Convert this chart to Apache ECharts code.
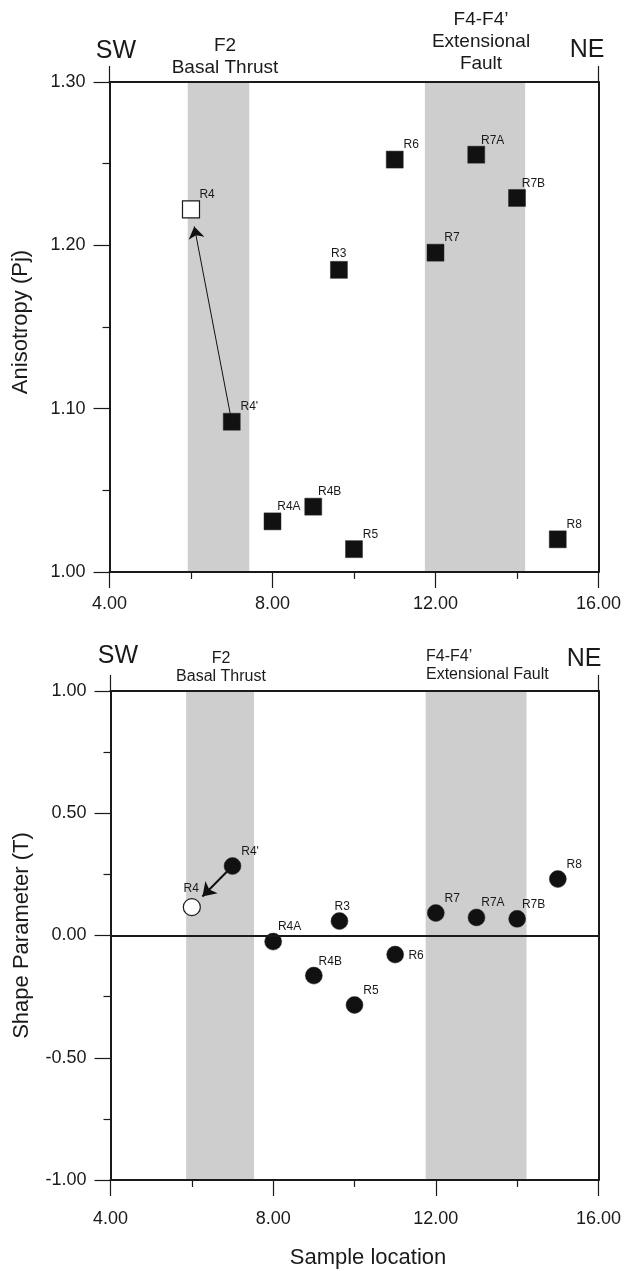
<!DOCTYPE html>
<html>
<head>
<meta charset="utf-8">
<script src="https://cdn.jsdelivr.net/npm/echarts@6/dist/echarts.min.js"></script>
<style>
  html, body { margin: 0; padding: 0; background: #fff; }
  #chart { width: 630px; height: 1271px; }
</style>
</head>
<body>
<div id="chart"></div>
<script>
// sample names along the SW-NE profile
var names = ['R4', "R4'", 'R4A', 'R4B', 'R3', 'R5', 'R6', 'R7', 'R7A', 'R7B', 'R8'];
var sampleLoc = [6.0, 7.0, 8.0, 9.0, 9.63, 10.0, 11.0, 12.0, 13.0, 14.0, 15.0];
// anisotropy degree Pj
var pjValues = [1.222, 1.092, 1.031, 1.040, 1.185, 1.014, 1.2525, 1.1955, 1.2555, 1.229, 1.020];
// shape parameter T
var tValues = [0.116, 0.284, -0.025, -0.164, 0.059, -0.284, -0.078, 0.092, 0.074, 0.068, 0.231];
// restored (open) sample and the arrow R4' -> R4
var openSamples = ['R4'];
var arrowFrom = "R4'";
var arrowTo = 'R4';
// tick values
var xTicks = [4, 8, 12, 16];
var pjTicks = [1.0, 1.1, 1.2, 1.3];
var tTicks = [-1.0, -0.5, 0.0, 0.5, 1.0];
// shaded fault zones (sample location)
var pjZones = [[5.92, 7.43], [11.74, 14.2]];
var tZones = [[5.86, 7.53], [11.75, 14.23]];

var FONT = '"Liberation Sans", Arial, Helvetica, sans-serif';
var INK = '#1a1a1a';

// label placement: [dx, dy, align] from the marker centre
var pjPlaces = {
  _default: [9, -14.5, 'left'],
  'R4A': [5, -14.5, 'left'], 'R4B': [5, -14.5, 'left'],
  'R7A': [5, -14, 'left'], 'R7B': [5, -14.5, 'left'],
  'R3': [0, -15.5, 'center']
};
var tPlaces = {
  _default: [9, -14, 'left'],
  'R4A': [5, -15, 'left'], 'R4B': [5, -14, 'left'],
  'R7A': [5, -14, 'left'], 'R7B': [5, -14, 'left'],
  'R3': [3, -14.5, 'center'], 'R4': [0, -18, 'center'],
  'R6': [13.5, 1, 'left']
};

var SIZE = 17;

function buildPoints(yVals, places) {
  return names.map(function(n, i) {
    var open = openSamples.indexOf(n) >= 0;
    var p = places[n] || places._default;
    return {
      name: n,
      value: [sampleLoc[i], yVals[i]],
      itemStyle: open
        ? { color: '#fff', borderColor: INK, borderWidth: 1.2, opacity: 1 }
        : { color: '#111', borderColor: '#2a2a2a', borderWidth: 0.5, opacity: 1 },
      label: {
        show: true,
        formatter: n,
        position: [SIZE / 2 + p[0], SIZE / 2 + p[1]],
        align: p[2],
        verticalAlign: 'middle',
        fontSize: 12,
        fontFamily: FONT,
        color: INK
      }
    };
  });
}

function arrowCoords(yVals, frac) {
  var a = names.indexOf(arrowFrom), b = names.indexOf(arrowTo);
  var x0 = sampleLoc[a], y0 = yVals[a], x1 = sampleLoc[b], y1 = yVals[b];
  return [[x0, y0], [x1 + (x0 - x1) * frac, y1 + (y0 - y1) * frac]];
}

function fmt(v) { return v.toFixed(2); }

function bottomAxis(grid, vals, margin, extra) {
  var ax = {
    gridIndex: grid, type: 'value', position: 'bottom', z: 10,
    min: vals[0], max: vals[vals.length - 1], interval: vals[1] - vals[0],
    axisLine: { show: true, onZero: false, lineStyle: { color: INK, width: 2 } },
    axisTick: { show: true, length: 16, lineStyle: { color: INK, width: 1.2 } },
    minorTick: { show: true, splitNumber: 2, length: 7, lineStyle: { color: INK, width: 1.2 } },
    axisLabel: { margin: margin, fontSize: 18, fontFamily: FONT, color: INK, formatter: fmt, showMinLabel: true, showMaxLabel: true },
    splitLine: { show: false }, minorSplitLine: { show: false }
  };
  for (var k in extra) ax[k] = extra[k];
  return ax;
}

function topAxis(grid, vals) {
  return {
    gridIndex: grid, type: 'value', position: 'top', z: 10,
    min: vals[0], max: vals[vals.length - 1], interval: vals[vals.length - 1] - vals[0],
    axisLine: { show: true, onZero: false, lineStyle: { color: INK, width: 2 } },
    axisTick: { show: true, length: 16, lineStyle: { color: INK, width: 1.2 } },
    axisLabel: { show: false }, splitLine: { show: false }
  };
}

function leftAxis(grid, vals, name, pad) {
  return {
    gridIndex: grid, type: 'value', position: 'left', z: 10,
    min: vals[0], max: vals[vals.length - 1], interval: Math.round((vals[1] - vals[0]) * 100) / 100,
    name: name, nameLocation: 'middle', nameGap: 78,
    nameTextStyle: { fontSize: 22, fontFamily: FONT, color: INK, padding: pad },
    axisLine: { show: true, onZero: false, lineStyle: { color: INK, width: 2 } },
    axisTick: { show: true, length: 16, lineStyle: { color: INK, width: 1.2 } },
    minorTick: { show: true, splitNumber: 2, length: 7, lineStyle: { color: INK, width: 1.2 } },
    axisLabel: { margin: 24, fontSize: 18, fontFamily: FONT, color: INK, formatter: fmt, showMinLabel: true, showMaxLabel: true },
    splitLine: { show: false }, minorSplitLine: { show: false }
  };
}

function rightAxis(grid, vals) {
  return {
    gridIndex: grid, type: 'value', position: 'right', z: 10,
    min: vals[0], max: vals[vals.length - 1],
    axisLine: { show: true, onZero: false, lineStyle: { color: INK, width: 2 } },
    axisTick: { show: false }, axisLabel: { show: false }, splitLine: { show: false }
  };
}

function zoneSeries(xi, yi, zones) {
  return {
    type: 'scatter', xAxisIndex: xi, yAxisIndex: yi, data: [], z: 1, silent: true,
    markArea: {
      silent: true,
      itemStyle: { color: '#cdcecd', opacity: 1 },
      data: zones.map(function(z) { return [{ xAxis: z[0] }, { xAxis: z[1] }]; })
    }
  };
}

function annot(x, y, text, size, lh, align) {
  return {
    type: 'text', x: x, y: y, z: 20,
    style: { text: text, fontSize: size, fontFamily: FONT, fill: INK, align: align || 'center', verticalAlign: 'middle', lineHeight: lh || size }
  };
}

var chart = echarts.init(document.getElementById('chart'));
chart.setOption({
  animation: false,
  backgroundColor: '#fff',
  grid: [
    { left: 109.5, top: 82, width: 489, height: 490 },
    { left: 110.5, top: 691, width: 488, height: 489 }
  ],
  xAxis: [
    bottomAxis(0, xTicks, 23, {}),
    topAxis(0, xTicks),
    bottomAxis(1, xTicks, 30, {
      name: 'Sample location', nameLocation: 'middle', nameGap: 67,
      nameTextStyle: { fontSize: 22, fontFamily: FONT, color: INK, padding: [0, 0, 0, 27] }
    }),
    topAxis(1, xTicks)
  ],
  yAxis: [
    leftAxis(0, pjTicks, 'Anisotropy (Pj)', [0, 0, 0, 10]),
    rightAxis(0, pjTicks),
    leftAxis(1, tTicks, 'Shape Parameter (T)', [0, 0, 0, 0]),
    rightAxis(1, tTicks)
  ],
  graphic: [
    annot(116, 51, 'SW', 25),
    annot(587, 50, 'NE', 25),
    annot(225, 57, 'F2\nBasal Thrust', 19, 22),
    annot(481, 42, 'F4-F4\u2019\nExtensional\nFault', 19, 22),
    annot(118, 656, 'SW', 25),
    annot(584, 659, 'NE', 25),
    annot(221, 668, 'F2\nBasal Thrust', 16, 18),
    annot(426, 666, 'F4-F4\u2019\nExtensional Fault', 16, 18, 'left')
  ],
  series: [
    zoneSeries(0, 0, pjZones),
    zoneSeries(2, 2, tZones),
    {
      type: 'scatter', xAxisIndex: 2, yAxisIndex: 2, data: [], z: 2, silent: true,
      markLine: {
        silent: true, symbol: ['none', 'none'], label: { show: false },
        lineStyle: { color: INK, width: 2, type: 'solid', opacity: 1 },
        data: [{ yAxis: 0 }]
      }
    },
    {
      type: 'lines', coordinateSystem: 'cartesian2d', xAxisIndex: 0, yAxisIndex: 0, z: 3, silent: true,
      symbol: ['none', 'arrow'], symbolSize: 12,
      lineStyle: { color: '#111', width: 1, opacity: 1, curveness: 0 },
      data: [{ coords: arrowCoords(pjValues, 0.08) }]
    },
    {
      type: 'lines', coordinateSystem: 'cartesian2d', xAxisIndex: 2, yAxisIndex: 2, z: 3, silent: true,
      symbol: ['none', 'arrow'], symbolSize: 13,
      lineStyle: { color: '#111', width: 2, opacity: 1, curveness: 0 },
      data: [{ coords: arrowCoords(tValues, 0.26) }]
    },
    {
      name: 'Pj', type: 'scatter', xAxisIndex: 0, yAxisIndex: 0, z: 4,
      symbol: 'rect', symbolSize: SIZE,
      data: buildPoints(pjValues, pjPlaces)
    },
    {
      name: 'T', type: 'scatter', xAxisIndex: 2, yAxisIndex: 2, z: 4,
      symbol: 'circle', symbolSize: SIZE,
      data: buildPoints(tValues, tPlaces)
    }
  ]
});
</script>
</body>
</html>
